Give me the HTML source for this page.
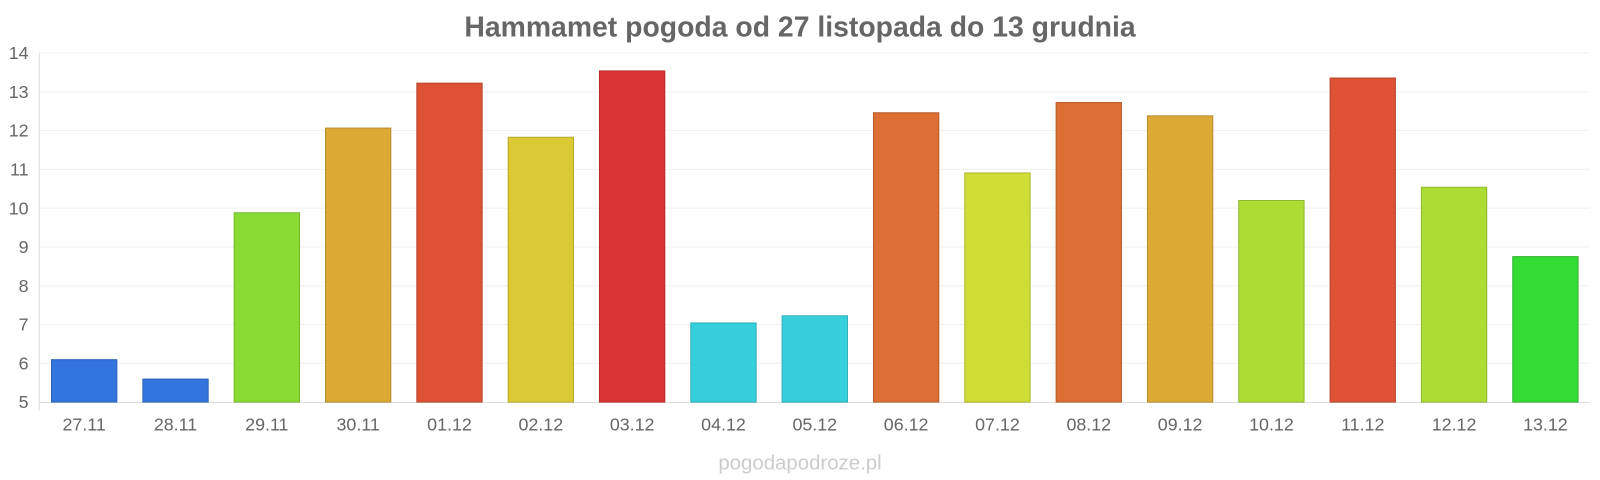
<!DOCTYPE html>
<html><head><meta charset="utf-8"><style>
body{margin:0;background:#fff;}
svg{display:block;font-family:"Liberation Sans",sans-serif;}
</style></head><body>
<svg width="1600" height="480" viewBox="0 0 1568 470.4" preserveAspectRatio="none">
<text x="784" y="36" text-anchor="middle" font-size="27.8" font-weight="bold" fill="#666">Hammamet pogoda od 27 listopada do 13 grudnia</text>
<g stroke="#f0f0f0" stroke-width="1">
<line x1="38" x2="1558" y1="52" y2="52"/><line x1="38" x2="1558" y1="90" y2="90"/><line x1="38" x2="1558" y1="128" y2="128"/><line x1="38" x2="1558" y1="166" y2="166"/><line x1="38" x2="1558" y1="204" y2="204"/><line x1="38" x2="1558" y1="242" y2="242"/><line x1="38" x2="1558" y1="280" y2="280"/><line x1="38" x2="1558" y1="318" y2="318"/><line x1="38" x2="1558" y1="356" y2="356"/>
</g>
<line x1="38" x2="1558" y1="394.5" y2="394.5" stroke="#ddd"/>
<line x1="38.5" x2="38.5" y1="52" y2="402" stroke="#ddd"/>
<g font-size="17.5" fill="#666" text-anchor="end">
<text x="28" y="58">14</text><text x="28" y="96">13</text><text x="28" y="134">12</text><text x="28" y="172">11</text><text x="28" y="210">10</text><text x="28" y="248">9</text><text x="28" y="286">8</text><text x="28" y="324">7</text><text x="28" y="362">6</text><text x="28" y="400">5</text>
</g>
<g stroke-width="1">
<rect x="50.5" y="352.5" width="64" height="41.5" fill="#3375de" stroke="#2a62b8"/>
<rect x="140" y="371.5" width="64" height="22.5" fill="#3375de" stroke="#2a62b8"/>
<rect x="229.5" y="208.5" width="64" height="185.5" fill="#8adc35" stroke="#74b82c"/>
<rect x="319" y="125.5" width="64" height="268.5" fill="#dda935" stroke="#b88d2c"/>
<rect x="408.5" y="81.5" width="64" height="312.5" fill="#dd5234" stroke="#b8442b"/>
<rect x="498" y="134.5" width="64" height="259.5" fill="#dbca34" stroke="#b7a82b"/>
<rect x="587.5" y="69.5" width="64" height="324.5" fill="#db3434" stroke="#b72b2b"/>
<rect x="677" y="316.5" width="64" height="77.5" fill="#35d0dc" stroke="#2cadb8"/>
<rect x="766.5" y="309.5" width="64" height="84.5" fill="#35d0dc" stroke="#2cadb8"/>
<rect x="856" y="110.5" width="64" height="283.5" fill="#dd6e34" stroke="#b85c2b"/>
<rect x="945.5" y="169.5" width="64" height="224.5" fill="#cfdd35" stroke="#adb82c"/>
<rect x="1035" y="100.5" width="64" height="293.5" fill="#dd6e34" stroke="#b85c2b"/>
<rect x="1124.5" y="113.5" width="64" height="280.5" fill="#dda935" stroke="#b88d2c"/>
<rect x="1214" y="196.5" width="64" height="197.5" fill="#addc35" stroke="#90b82c"/>
<rect x="1303.5" y="76.5" width="64" height="317.5" fill="#dd5234" stroke="#b8442b"/>
<rect x="1393" y="183.5" width="64" height="210.5" fill="#addc35" stroke="#90b82c"/>
<rect x="1482.5" y="251.5" width="64" height="142.5" fill="#35dc35" stroke="#2cb82c"/>
</g>
<g font-size="17.5" fill="#666" text-anchor="middle">
<text x="82.5" y="422">27.11</text><text x="172" y="422">28.11</text><text x="261.5" y="422">29.11</text><text x="351" y="422">30.11</text><text x="440.5" y="422">01.12</text><text x="530" y="422">02.12</text><text x="619.5" y="422">03.12</text><text x="709" y="422">04.12</text><text x="798.5" y="422">05.12</text><text x="888" y="422">06.12</text><text x="977.5" y="422">07.12</text><text x="1067" y="422">08.12</text><text x="1156.5" y="422">09.12</text><text x="1246" y="422">10.12</text><text x="1335.5" y="422">11.12</text><text x="1425" y="422">12.12</text><text x="1514.5" y="422">13.12</text>
</g>
<text x="784" y="460" text-anchor="middle" font-size="20" fill="#ccc">pogodapodroze.pl</text>
</svg>
</body></html>
